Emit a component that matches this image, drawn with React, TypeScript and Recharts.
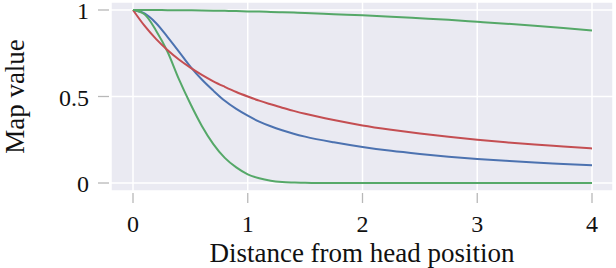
import React from 'react';
import { LineChart, Line, XAxis, YAxis, CartesianGrid, Label } from 'recharts';

// distance from head position (x)
const distances = [0, 0.1, 0.2, 0.3, 0.4, 0.5, 0.6, 0.7, 0.8, 0.9, 1, 1.1, 1.2, 1.3, 1.4, 1.5, 1.75, 2, 2.25, 2.5, 2.75, 3, 3.25, 3.5, 3.75, 4];

// map values
const blueValues = [1, 0.98, 0.925, 0.845, 0.76, 0.673, 0.598, 0.534, 0.475, 0.428, 0.389, 0.355, 0.328, 0.305, 0.285, 0.268, 0.235, 0.208, 0.186, 0.168, 0.152, 0.139, 0.128, 0.118, 0.11, 0.102];
const redValues = [1, 0.909, 0.833, 0.769, 0.714, 0.667, 0.625, 0.588, 0.556, 0.526, 0.5, 0.476, 0.455, 0.435, 0.417, 0.4, 0.364, 0.333, 0.308, 0.286, 0.267, 0.25, 0.235, 0.222, 0.211, 0.2];
const greenSteepValues = [1, 0.975, 0.882, 0.76, 0.6, 0.458, 0.33, 0.225, 0.145, 0.09, 0.05, 0.027, 0.013, 0.006, 0.003, 0.001, 0, 0, 0, 0, 0, 0, 0, 0, 0, 0];
const greenFlatValues = [1, 1, 1, 0.999, 0.999, 0.998, 0.997, 0.996, 0.995, 0.994, 0.992, 0.991, 0.989, 0.987, 0.985, 0.983, 0.976, 0.969, 0.961, 0.952, 0.943, 0.932, 0.921, 0.909, 0.896, 0.882];

const xTicks = [0, 1, 2, 3, 4];
const yTicks = [0, 0.5, 1];

const data = distances.map((x, i) => ({
  x,
  blue: blueValues[i],
  greenSteep: greenSteepValues[i],
  red: redValues[i],
  greenFlat: greenFlatValues[i],
}));

const TICK_COLOR = '#b8b8b8';
const SERIF = 'Liberation Serif';

const XTick = ({ x, y, payload }: any) => (
  <g>
    <line x1={x} x2={x} y1={y + 2} y2={y + 12} stroke={TICK_COLOR} strokeWidth={1.3} />
    <text x={x} y={y + 41} textAnchor="middle" fontFamily={SERIF} fontSize={24} fill="#111">
      {String(payload.value)}
    </text>
  </g>
);

const YTick = ({ x, y, payload }: any) => (
  <g>
    <line x1={x - 13} x2={x - 2} y1={y} y2={y} stroke={TICK_COLOR} strokeWidth={1.3} />
    <text x={x - 22} y={y + 9} textAnchor="end" fontFamily={SERIF} fontSize={24} fill="#111">
      {String(payload.value)}
    </text>
  </g>
);

export default function App() {
  return (
    <div style={{ position: 'absolute', left: 0, top: 0, width: 616, height: 268, background: '#fff' }}>
      <LineChart width={616} height={268} data={data} margin={{ top: 2, right: 3, bottom: 0, left: 0 }}>
        <CartesianGrid fill="#eaeaf2" stroke="#ffffff" strokeWidth={1.5} />
        <XAxis
          dataKey="x"
          type="number"
          domain={[-0.1917, 4.183]}
          ticks={xTicks}
          height={77}
          tickSize={0}
          tickMargin={0}
          tickLine={false}
          axisLine={false}
          tick={<XTick />}
          allowDataOverflow
        >
          <Label
            content={({ viewBox }: any) => (
              <text x={viewBox.x + viewBox.width / 2} y={261.5} textAnchor="middle" fontFamily={SERIF} fontSize={27} fill="#111">
                Distance from head position
              </text>
            )}
          />
        </XAxis>
        <YAxis
          type="number"
          domain={[-0.0462, 1.0462]}
          ticks={yTicks}
          width={111}
          tickSize={0}
          tickMargin={0}
          tickLine={false}
          axisLine={false}
          tick={<YTick />}
          allowDataOverflow
        >
          <Label
            content={({ viewBox }: any) => {
              const cy = viewBox.y + viewBox.height / 2;
              return (
                <text x={24} y={cy} transform={`rotate(-90, 24, ${cy})`} textAnchor="middle" fontFamily={SERIF} fontSize={27} fill="#111">
                  Map value
                </text>
              );
            }}
          />
        </YAxis>
        <Line type="monotone" dataKey="blue" stroke="#4c72b0" strokeWidth={2} dot={false} isAnimationActive={false} />
        <Line type="monotone" dataKey="greenSteep" stroke="#55a868" strokeWidth={2} dot={false} isAnimationActive={false} />
        <Line type="monotone" dataKey="red" stroke="#c44e52" strokeWidth={2} dot={false} isAnimationActive={false} />
        <Line type="monotone" dataKey="greenFlat" stroke="#55a868" strokeWidth={2} dot={false} isAnimationActive={false} />
      </LineChart>
    </div>
  );
}
